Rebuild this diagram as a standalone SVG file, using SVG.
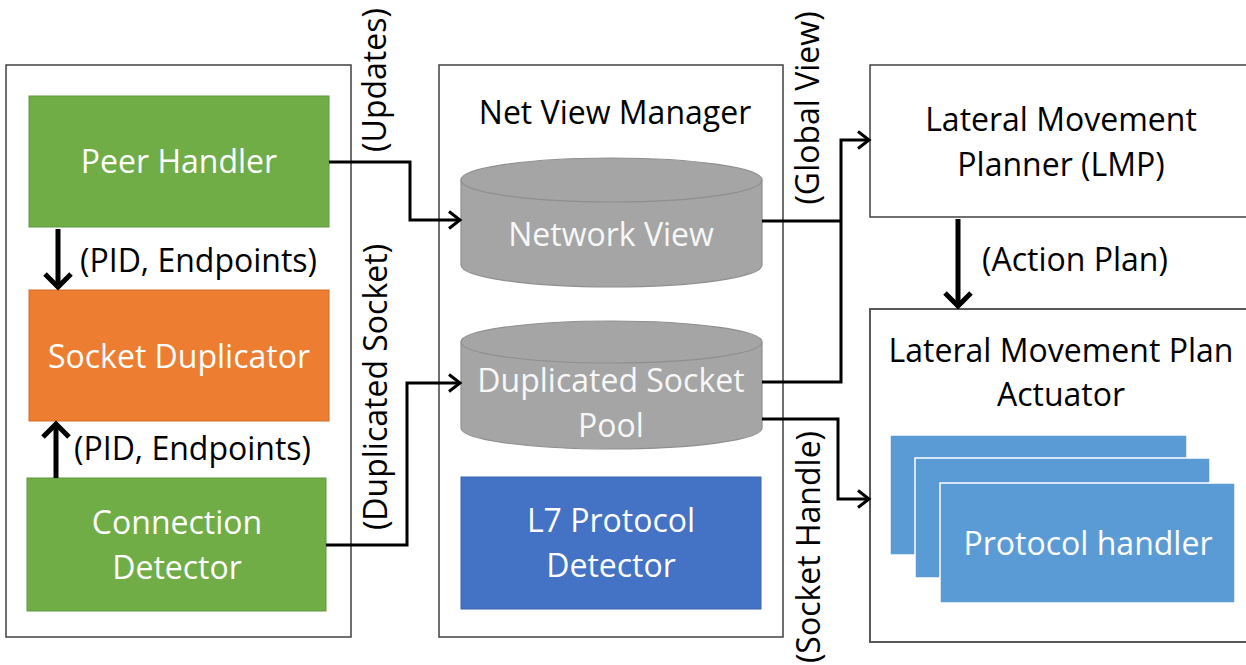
<svg xmlns="http://www.w3.org/2000/svg" width="1246" height="665" viewBox="0 0 1246 665">
<style>
text{font-family:"Open Sans","Liberation Sans",sans-serif;font-size:32px;}
.w{fill:#ffffff;}
.k{fill:#000000;}
.m{text-anchor:middle;}
.box{fill:#ffffff;stroke:#404040;stroke-width:1.5;}
.cyl{fill:#a5a5a5;stroke:#8f8f8f;stroke-width:1.2;}
.conn{fill:none;stroke:#000;stroke-width:3;}
.thick{fill:none;stroke:#000;stroke-width:5;}
.ph{fill:#5b9bd5;stroke:#ffffff;stroke-width:1.5;}
</style>
<defs>
<marker id="ah" markerUnits="userSpaceOnUse" markerWidth="22" markerHeight="22" refX="14" refY="10" orient="auto">
<path d="M3,1.5 L14,10 L3,18.5" fill="none" stroke="#000" stroke-width="3"/>
</marker>
<marker id="big" markerUnits="userSpaceOnUse" markerWidth="24" markerHeight="32" refX="18" refY="16" orient="auto">
<path d="M4,3 L17,16 L4,29" fill="none" stroke="#000" stroke-width="5"/>
</marker>
</defs>
<rect width="1246" height="665" fill="#ffffff"/>

<g id="left-container"><rect class="box" x="6" y="65" width="345" height="572"/></g>
<g id="peer-handler"><rect x="29" y="96" width="300" height="131" fill="#70ad47" stroke="#5f9a3c" stroke-width="1"/><text class="w m" x="179" y="173">Peer Handler</text></g>
<g id="socket-duplicator"><rect x="29" y="290" width="300" height="131" fill="#ed7d31" stroke="#d46b26" stroke-width="1"/><text class="w m" x="179" y="368">Socket Duplicator</text></g>
<g id="connection-detector"><rect x="27" y="478" width="299" height="133" fill="#70ad47" stroke="#5f9a3c" stroke-width="1"/><text class="w m" x="177" y="534">Connection</text><text class="w m" x="177" y="579">Detector</text></g>

<g id="net-view-manager"><rect class="box" x="439" y="65" width="344" height="572"/><text class="k m" x="615" y="124">Net View Manager</text></g>
<g id="network-view">
<path class="cyl" d="M461,180 V265 A150.5,22 0 0 0 762,265 V180"/>
<ellipse class="cyl" cx="611.5" cy="180" rx="150.5" ry="22"/>
<text class="m" x="611" y="246" fill="#f7f7f7">Network View</text>
</g>
<g id="duplicated-socket-pool">
<path class="cyl" d="M461,342 V428 A150.5,21 0 0 0 762,428 V342"/>
<ellipse class="cyl" cx="611.5" cy="342" rx="150.5" ry="21"/>
<text class="m" x="611" y="392" fill="#f7f7f7">Duplicated Socket</text>
<text class="m" x="611" y="437" fill="#f7f7f7">Pool</text>
</g>
<g id="l7-protocol-detector"><rect x="461" y="477" width="300" height="132" fill="#4472c4" stroke="#3a64ad" stroke-width="1"/><text class="w m" x="611" y="532">L7 Protocol</text><text class="w m" x="611" y="577">Detector</text></g>

<g id="lmp"><rect class="box" x="870" y="65" width="380" height="152"/><text class="k m" x="1061" y="131">Lateral Movement</text><text class="k m" x="1061" y="176">Planner (LMP)</text></g>
<g id="lmpa"><rect x="870" y="309" width="380" height="333" fill="#ffffff" stroke="#595959" stroke-width="2"/><text class="k m" x="1061" y="362">Lateral Movement Plan</text><text class="k m" x="1061" y="406">Actuator</text>
<rect class="ph" x="890" y="435" width="297" height="120"/>
<rect class="ph" x="915" y="458" width="295" height="120"/>
<rect class="ph" x="940" y="483" width="295" height="120"/>
<text class="w m" x="1088" y="555">Protocol handler</text>
</g>

<g id="connectors">
<path class="conn" d="M329,162 H410 V220 H460" marker-end="url(#ah)"/>
<path class="conn" d="M326,545 H407 V383 H460" marker-end="url(#ah)"/>
<path class="conn" d="M762,221 H841"/>
<path class="conn" d="M762,382 H841 V140 H869" marker-end="url(#ah)"/>
<path class="conn" d="M762,419 H838 V499 H869" marker-end="url(#ah)"/>
<path class="thick" d="M58,229 V288" marker-end="url(#big)"/>
<path class="thick" d="M56,478 V423" marker-end="url(#big)"/>
<path class="thick" d="M958,219 V307" marker-end="url(#big)"/>
</g>

<g id="labels">
<text class="k" x="80" y="272">(PID, Endpoints)</text>
<text class="k" x="74" y="460">(PID, Endpoints)</text>
<text class="k" x="982" y="271">(Action Plan)</text>
<text class="k m" transform="translate(386,80) rotate(-90)">(Updates)</text>
<text class="k m" transform="translate(387,387) rotate(-90)">(Duplicated Socket)</text>
<text class="k m" transform="translate(819,108) rotate(-90)">(Global View)</text>
<text class="k m" transform="translate(820,547) rotate(-90)">(Socket Handle)</text>
</g>
</svg>
